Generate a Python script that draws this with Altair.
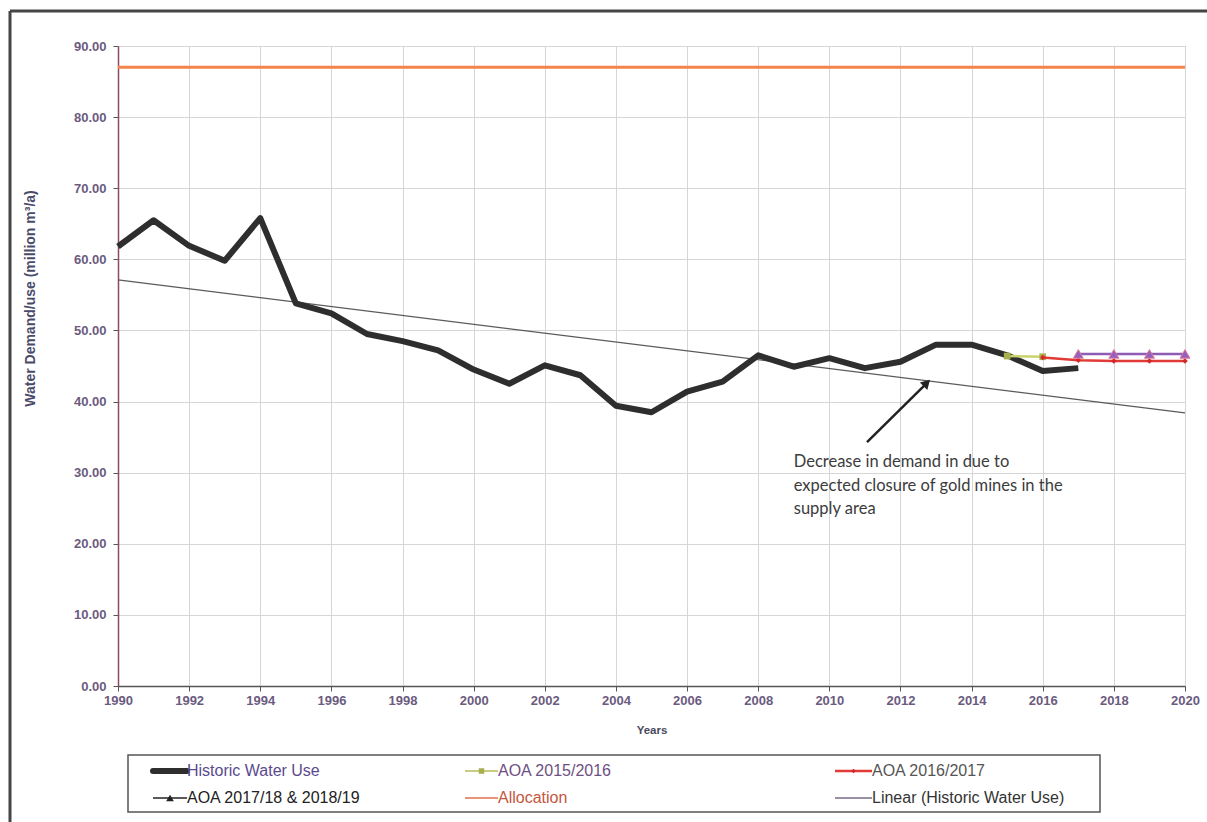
import altair as alt
import pandas as pd

# ---- series values (million m3/a) ----
hist_years = list(range(1990, 2018))
hist_use = [61.8, 65.5, 61.9, 59.8, 65.8, 53.8, 52.4, 49.5, 48.5, 47.2,
            44.5, 42.5, 45.1, 43.7, 39.4, 38.5, 41.4, 42.8, 46.5, 44.9,
            46.1, 44.7, 45.6, 48.0, 48.0, 46.5, 44.3, 44.7]

alloc_years = [1990, 2020]
alloc_values = [87.0, 87.0]

trend_years = [1990, 2020]
trend_values = [57.1, 38.4]

aoa1516_years = [2015, 2016]
aoa1516_values = [46.4, 46.3]

aoa1617_years = [2016, 2017, 2018, 2019, 2020]
aoa1617_values = [46.2, 45.8, 45.7, 45.7, 45.7]

aoa1719_years = [2017, 2018, 2019, 2020]
aoa1719_values = [46.7, 46.7, 46.7, 46.7]

x_ticks = list(range(1990, 2021, 2))
y_ticks = [0, 10, 20, 30, 40, 50, 60, 70, 80, 90]

legend_labels = ["Historic Water Use", "AOA 2015/2016", "AOA 2016/2017",
                 "AOA 2017/18 & 2018/19", "Allocation", "Linear (Historic Water Use)"]

note_lines = ["Decrease in demand in due to",
              "expected closure of gold mines in the",
              "supply area"]
note_x, note_y = 2009.0, 32.6
arrow_tail = (2011.06, 34.3)
arrow_head = (2012.74, 42.6)

W, H = 1067, 640
LABEL_COLOR = "#6b5b7e"


def frame(years, values):
    return pd.DataFrame({"year": years, "value": values})


x_enc = alt.X("year:Q",
              scale=alt.Scale(domain=[1990, 2020], nice=False, zero=False),
              axis=alt.Axis(values=x_ticks, format="d", title="Years",
                            grid=True, gridColor="#d6d6d6", gridWidth=1,
                            domainColor="#555555", domainWidth=1.5,
                            tickColor="#555555", tickSize=5, labelPadding=3,
                            labelFlush=False, labelOverlap=False,
                            labelFont="Liberation Sans", labelFontSize=13,
                            labelFontWeight="bold", labelColor=LABEL_COLOR,
                            titleFont="Liberation Sans", titleFontSize=11.5,
                            titleFontWeight="bold", titleColor="#4a4a5e",
                            titleY=44, titleBaseline="middle"))
y_enc = alt.Y("value:Q",
              scale=alt.Scale(domain=[0, 90], nice=False),
              axis=alt.Axis(values=y_ticks, format=".2f",
                            title="Water Demand/use (million m³/a)",
                            grid=True, gridColor="#d6d6d6", gridWidth=1,
                            domainColor="#8a4d5e", domainWidth=1.5,
                            tickColor="#555555", tickSize=5, labelPadding=7,
                            labelFlush=False, labelOverlap=False,
                            labelFont="Liberation Sans", labelFontSize=13,
                            labelFontWeight="bold", labelColor=LABEL_COLOR,
                            titleFont="Liberation Sans", titleFontSize=14,
                            titleFontWeight="bold", titleColor="#4a4a6a",
                            titleX=-88, titleY=252, titleAngle=270,
                            titleAlign="center", titleBaseline="middle"))

trend = alt.Chart(frame(trend_years, trend_values)).mark_line(
    color="#5a5a5a", strokeWidth=1.3).encode(x=x_enc, y=y_enc)

alloc = alt.Chart(frame(alloc_years, alloc_values)).mark_line(
    color="#f2844c", strokeWidth=3).encode(x=x_enc, y=y_enc)

historic = alt.Chart(frame(hist_years, hist_use)).mark_line(
    color="#2e2e2e", strokeWidth=6, strokeJoin="round").encode(x=x_enc, y=y_enc)

aoa1516 = alt.Chart(frame(aoa1516_years, aoa1516_values)).mark_line(
    color="#cbd36c", strokeWidth=2.5,
    point=alt.OverlayMarkDef(shape="square", size=45, filled=True, color="#a8b04e")
).encode(x=x_enc, y=y_enc)

aoa1617 = alt.Chart(frame(aoa1617_years, aoa1617_values)).mark_line(
    color="#e23a36", strokeWidth=2.5,
    point=alt.OverlayMarkDef(shape="diamond", size=30, filled=True, color="#d42828")
).encode(x=x_enc, y=y_enc)

aoa1719 = alt.Chart(frame(aoa1719_years, aoa1719_values)).mark_line(
    color="#8e5bb5", strokeWidth=2.5,
    point=alt.OverlayMarkDef(shape="triangle-up", size=100, filled=True,
                             color="#9560c0", stroke="#e27a98", strokeWidth=1)
).encode(x=x_enc, y=y_enc)

# ---- annotation with arrow ----
note = alt.Chart(pd.DataFrame({"year": [note_x], "value": [note_y]})).mark_text(
    text=note_lines, align="left", baseline="top", lineHeight=23.5,
    font="Lato", fontSize=16.5, color="#3c3c3c"
).encode(x=x_enc, y=y_enc)

arrow_line = alt.Chart(pd.DataFrame({
    "year": [arrow_tail[0], arrow_head[0]], "value": [arrow_tail[1], arrow_head[1]]
})).mark_line(color="#222222", strokeWidth=2.5).encode(x=x_enc, y=y_enc)

arrow_tip = alt.Chart(pd.DataFrame({"year": [arrow_head[0]], "value": [arrow_head[1]]})).mark_point(
    shape="triangle-up", angle=45, size=110, filled=True, color="#222222", opacity=1
).encode(x=x_enc, y=y_enc)

# ---- outer frame ----
one = pd.DataFrame({"k": [0]})
frame_left = alt.Chart(one).mark_rule(color="#454545", strokeWidth=3).encode(
    x=alt.value(-108), y=alt.value(-35), y2=alt.value(780))
frame_top = alt.Chart(one).mark_rule(color="#454545", strokeWidth=3).encode(
    x=alt.value(-108), x2=alt.value(1095), y=alt.value(-35))

# ---- legend box ----
legend_box = alt.Chart(one).mark_rect(fill="white", stroke="#555555", strokeWidth=1.5).encode(
    x=alt.value(10), x2=alt.value(982), y=alt.value(709), y2=alt.value(766))

row_y = [725, 752]
col_x = [(35, 69), (347, 380), (717, 754)]
legend_text_colors = ["#5b4a8e", "#6e4f82", "#555555", "#222222", "#c4563e", "#333333"]
legend_line_styles = [
    dict(color="#2e2e2e", strokeWidth=6, strokeCap="round"),
    dict(color="#b7bd5a", strokeWidth=1.5),
    dict(color="#e23a36", strokeWidth=2.5),
    dict(color="#222222", strokeWidth=1.5),
    dict(color="#e0704a", strokeWidth=1.5),
    dict(color="#7a6a8a", strokeWidth=1.3),
]
legend_markers = [None,
                  dict(shape="square", size=30, color="#a8b04e"),
                  dict(shape="diamond", size=20, color="#d42828"),
                  dict(shape="triangle-up", size=60, color="#222222"),
                  None, None]

legend_layers = []
for i, label in enumerate(legend_labels):
    r, c = divmod(i, 3)
    x0, x1 = col_x[c]
    y = row_y[r]
    src = pd.DataFrame({"label": [label]})
    legend_layers.append(alt.Chart(src).mark_rule(**legend_line_styles[i]).encode(
        x=alt.value(x0), x2=alt.value(x1), y=alt.value(y)))
    if legend_markers[i]:
        m = legend_markers[i]
        legend_layers.append(alt.Chart(src).mark_point(
            shape=m["shape"], size=m["size"], filled=True, color=m["color"], opacity=1
        ).encode(x=alt.value((x0 + x1) / 2), y=alt.value(y)))
    legend_layers.append(alt.Chart(src).mark_text(
        align="left", baseline="middle", font="Liberation Sans", fontSize=16,
        color=legend_text_colors[i]
    ).encode(x=alt.value(x1), y=alt.value(y), text="label:N"))

chart = alt.layer(
    trend, alloc, historic, aoa1516, aoa1617, aoa1719,
    arrow_line, arrow_tip, note,
    frame_left, frame_top, legend_box, *legend_layers
).properties(
    width=W, height=H,
    autosize=alt.AutoSizeParams(type="none"),
    padding={"left": 118, "top": 46, "right": 22, "bottom": 136},
    background="white",
).configure_view(stroke="#c4c4c4", strokeWidth=1)

chart.save("out.html", embed_options={"renderer": "svg", "actions": False})
